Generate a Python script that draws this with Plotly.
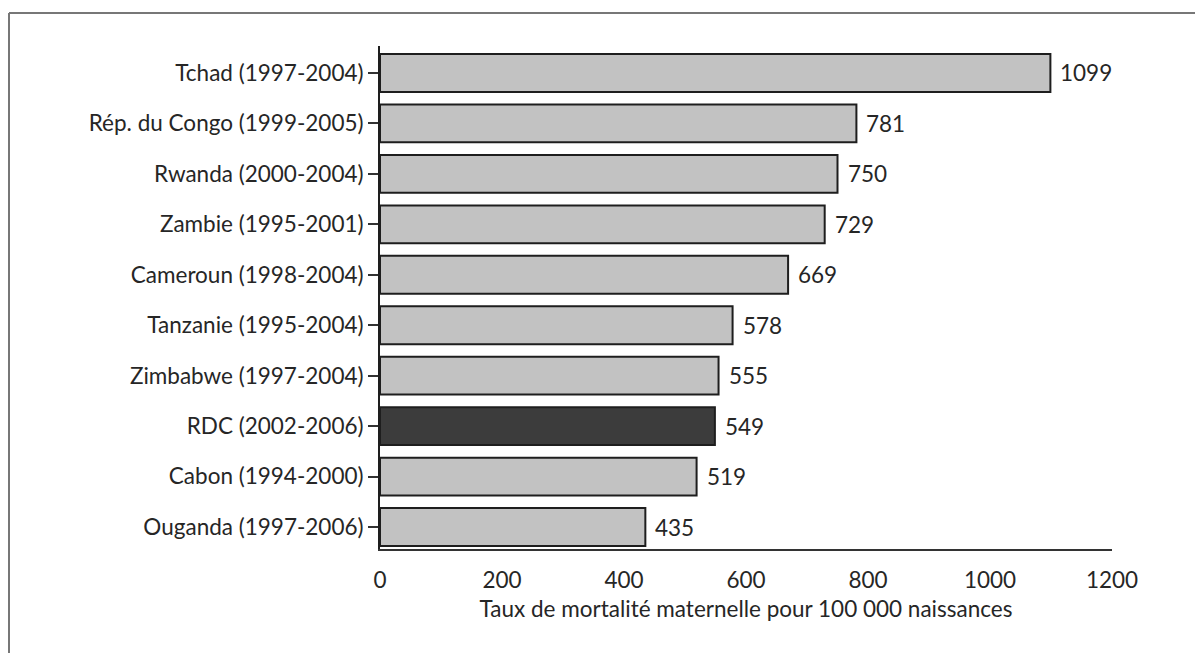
import plotly.graph_objects as go

countries = [
    "Tchad (1997-2004)",
    "Rép. du Congo (1999-2005)",
    "Rwanda (2000-2004)",
    "Zambie (1995-2001)",
    "Cameroun (1998-2004)",
    "Tanzanie (1995-2004)",
    "Zimbabwe (1997-2004)",
    "RDC (2002-2006)",
    "Cabon (1994-2000)",
    "Ouganda (1997-2006)",
]
values = [1099, 781, 750, 729, 669, 578, 555, 549, 519, 435]
highlight = "RDC (2002-2006)"
x_ticks = [0, 200, 400, 600, 800, 1000, 1200]

colors = ["#3c3c3c" if c == highlight else "#c2c2c2" for c in countries]
FONT = "Lato, Open Sans, sans-serif"
TXT = "#262626"
FS = 22.5

W, H = 1195, 653
ml, mt = 380, 46
pw, ph = 732, 503
mr, mb = W - ml - pw, H - mt - ph

fig = go.Figure(go.Bar(
    x=values,
    y=countries,
    orientation="h",
    marker=dict(color=colors, line=dict(color="#1e1e1e", width=2)),
    width=0.75,
    hoverinfo="x+y",
))

for c, v in zip(countries, values):
    fig.add_annotation(x=v, y=c, text=str(v), showarrow=False,
                       xanchor="left", xshift=8,
                       font=dict(size=FS, color=TXT, family=FONT))

fig.update_layout(
    width=W, height=H,
    margin=dict(l=ml, r=mr, t=mt, b=mb),
    plot_bgcolor="white",
    paper_bgcolor="white",
    showlegend=False,
    font=dict(family=FONT, size=FS, color=TXT),
    xaxis=dict(
        range=[0, 1200],
        tickvals=x_ticks,
        ticktext=[str(t) for t in x_ticks],
        showgrid=False,
        zeroline=False,
        showline=True,
        linecolor="#333333",
        linewidth=2,
        ticks="outside",
        ticklen=10,
        tickcolor="rgba(0,0,0,0)",
        tickfont=dict(size=FS, color=TXT),
        title=dict(text="Taux de mortalité maternelle pour 100 000 naissances",
                   font=dict(size=FS, color=TXT), standoff=9),
    ),
    yaxis=dict(
        categoryorder="array",
        categoryarray=countries[::-1],
        range=[-0.436, 9.535],
        showgrid=False,
        zeroline=False,
        showline=True,
        linecolor="#1e1e1e",
        linewidth=2,
        ticks="outside",
        ticklen=10,
        tickwidth=2,
        tickcolor="#333333",
        tickfont=dict(size=FS, color=TXT),
    ),
    shapes=[
        dict(type="line", xref="paper", yref="paper",
             x0=(9 - ml) / pw, x1=(W + 10 - ml) / pw,
             y0=1 + (mt - 13) / ph, y1=1 + (mt - 13) / ph,
             line=dict(color="#777777", width=2)),
        dict(type="line", xref="paper", yref="paper",
             x0=(9 - ml) / pw, x1=(9 - ml) / pw,
             y0=1 + (mt - 13) / ph, y1=-(mb + 10) / ph,
             line=dict(color="#777777", width=2)),
    ],
)

fig.write_html(
    "out.html",
    config={"displayModeBar": False},
    post_script=(
        "document.documentElement.style.overflow='hidden';"
        "document.body.style.margin='0';"
        "document.body.style.overflow='hidden';"
    ),
)
